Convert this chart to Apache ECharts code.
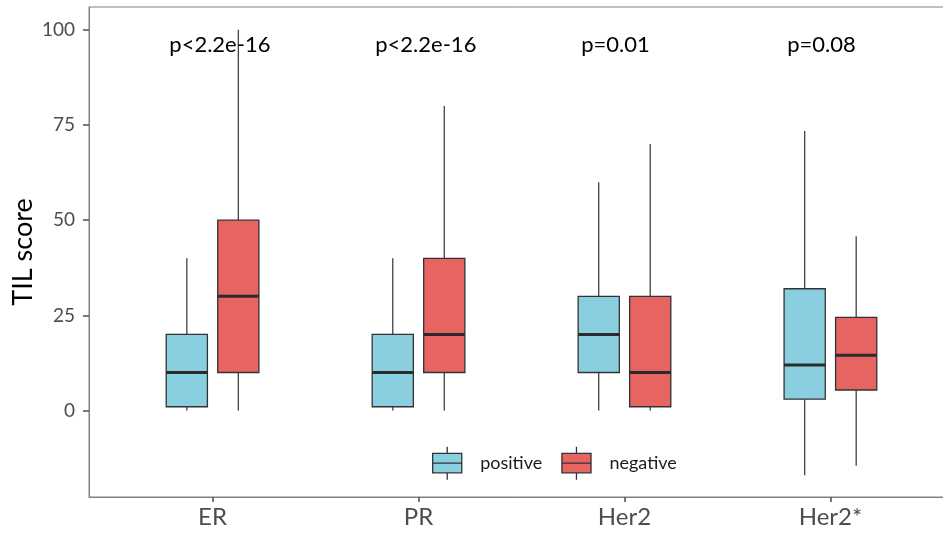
<!DOCTYPE html>
<html>
<head>
<meta charset="utf-8">
<script src="https://cdn.jsdelivr.net/npm/echarts@6/dist/echarts.min.js"></script>
<style>html,body{margin:0;padding:0;background:#fff;}#c{width:943px;height:534px;}</style>
</head>
<body>
<div id="c"></div>
<script>
const categories = ['ER', 'PR', 'Her2', 'Her2*'];
// [min, Q1, median, Q3, max]
const positiveStats = [[0, 1, 10, 20, 40], [0, 1, 10, 20, 40], [0, 10, 20, 30, 60], [-17, 3, 12, 32, 73.4]];
const negativeStats = [[0, 10, 30, 50, 100], [0, 10, 20, 40, 80], [0, 1, 10, 30, 70], [-14.5, 5.4, 14.5, 24.5, 45.8]];
const pValues = ['p<2.2e-16', 'p<2.2e-16', 'p=0.01', 'p=0.08'];
const yTicks = [0, 25, 50, 75, 100];
const seriesNames = ['positive', 'negative'];
const seriesColors = ['#89CFE0', '#E66462'];

const FONT = 'Lato, "Open Sans", sans-serif';
const catValues = categories.map((c, i) => i + 1);
const DODGE = 0.125, BOXW = 0.2, PLABEL_Y = 96;

function boxRender(dodge) {
  return function (params, api) {
    const x = api.value(0) + dodge;
    const pMin = api.coord([x, api.value(1)]);
    const pQ1 = api.coord([x, api.value(2)]);
    const pMed = api.coord([x, api.value(3)]);
    const pQ3 = api.coord([x, api.value(4)]);
    const pMax = api.coord([x, api.value(5)]);
    const hw = api.size([BOXW, 0])[0] / 2;
    const stroke = '#333333';
    return {
      type: 'group',
      children: [
        {type: 'line', shape: {x1: pMin[0], y1: pMin[1], x2: pQ1[0], y2: pQ1[1]}, style: {stroke: stroke, lineWidth: 1.2}},
        {type: 'line', shape: {x1: pQ3[0], y1: pQ3[1], x2: pMax[0], y2: pMax[1]}, style: {stroke: stroke, lineWidth: 1.2}},
        {type: 'rect', shape: {x: pQ3[0] - hw, y: pQ3[1], width: hw * 2, height: pQ1[1] - pQ3[1]},
         style: {fill: api.visual('color'), stroke: stroke, lineWidth: 1.3}},
        {type: 'line', shape: {x1: pMed[0] - hw, y1: pMed[1], x2: pMed[0] + hw, y2: pMed[1]}, style: {stroke: '#2b2b2b', lineWidth: 3}}
      ]
    };
  };
}

const statsList = [positiveStats, negativeStats];
const boxSeries = statsList.map((stats, si) => ({
  name: seriesNames[si],
  type: 'custom',
  renderItem: boxRender(si === 0 ? -DODGE : DODGE),
  itemStyle: {color: seriesColors[si], borderColor: '#333', borderWidth: 1.3},
  encode: {x: 0, y: [1, 2, 3, 4, 5]},
  data: stats.map((s, i) => [catValues[i]].concat(s))
}));

const pSeries = {
  type: 'custom',
  silent: true,
  renderItem: function (params, api) {
    const p = api.coord([api.value(0) - 0.21, PLABEL_Y]);
    return {type: 'text', x: p[0], y: p[1],
      style: {text: pValues[params.dataIndex], fill: '#000', font: '22px ' + FONT, textAlign: 'left', textVerticalAlign: 'middle'}};
  },
  encode: {x: 0},
  data: catValues.map(v => [v])
};

const legendIcon = 'path://M0,7H30V27H0ZM0,17H30M15,0V7M15,27V34';

const chart = echarts.init(document.getElementById('c'), null, {renderer: 'canvas'});
chart.setOption({
  animation: false,
  backgroundColor: '#fff',
  grid: {left: 89, top: 7, width: 865, height: 490, show: true, borderColor: '#808080', borderWidth: 1,
         containLabel: false, outerBoundsMode: 'none'},
  legend: {
    left: 427, top: 441, orient: 'horizontal', itemWidth: 30, itemHeight: 33, itemGap: 19,
    textStyle: {fontFamily: FONT, fontSize: 18, color: '#1a1a1a', padding: [0, 0, 0, 13]},
    data: seriesNames.map((n, i) => ({name: n, icon: legendIcon,
      itemStyle: {color: seriesColors[i], borderColor: '#333', borderWidth: 1.3}}))
  },
  xAxis: {
    type: 'value', min: 0.4, max: 4.6,
    splitLine: {show: false},
    axisLine: {show: true, onZero: false, lineStyle: {color: '#808080'}},
    axisTick: {show: true, length: 5, customValues: catValues, lineStyle: {color: '#4d4d4d', width: 1.5}},
    axisLabel: {customValues: catValues, formatter: v => categories[Math.round(v) - 1], fontFamily: FONT, fontSize: 24, color: '#4d4d4d', margin: 8}
  },
  yAxis: {
    type: 'value', min: -22.7, max: 106,
    name: 'TIL score', nameLocation: 'middle', nameGap: 52, nameMoveOverlap: false,
    nameTextStyle: {fontFamily: FONT, fontSize: 27, color: '#000'},
    splitLine: {show: false},
    axisLine: {show: true, onZero: false, lineStyle: {color: '#808080'}},
    axisTick: {show: true, length: 6, customValues: yTicks, lineStyle: {color: '#4d4d4d', width: 1.5}},
    axisLabel: {customValues: yTicks, fontFamily: FONT, fontSize: 19, color: '#4d4d4d', margin: 14}
  },
  series: boxSeries.concat([pSeries])
});
</script>
</body>
</html>
